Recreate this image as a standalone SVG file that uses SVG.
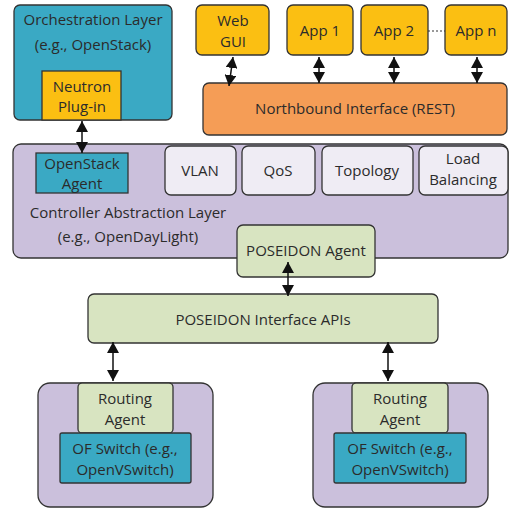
<svg xmlns="http://www.w3.org/2000/svg" width="510" height="508" viewBox="0 0 510 508">
<style>
text{font-family:"Open Sans","Liberation Sans",sans-serif;font-size:15px;fill:#2b2b2b;text-anchor:middle}
.b{stroke:#333;stroke-width:1.3}
.teal{fill:#3aa9c4}
.yel{fill:#fbbf12}
.org{fill:#f59d56}
.lav{fill:#cbc0dc}
.wht{fill:#efecf4}
.grn{fill:#d8e4c1}
.c{stroke:#111;stroke-width:1.5;fill:none;marker-start:url(#a);marker-end:url(#a)}
</style>
<defs>
<marker id="a" viewBox="0 0 11 12" refX="11" refY="6" markerWidth="11" markerHeight="12" markerUnits="userSpaceOnUse" orient="auto-start-reverse">
<path d="M0,0 L11,6 L0,12 Z" fill="#111"/>
</marker>
</defs>
<g id="orchestration">
<rect class="b teal" x="14" y="5" width="158" height="115" rx="6"/>
<text x="93" y="25">Orchestration Layer</text>
<text x="93" y="50">(e.g., OpenStack)</text>
</g>
<g id="neutron">
<rect class="b yel" x="42" y="71" width="79" height="49"/>
<text x="82" y="92">Neutron</text>
<text x="82" y="112">Plug-in</text>
</g>
<g id="webgui">
<rect class="b yel" x="196" y="5" width="73" height="50" rx="6"/>
<text x="233" y="26">Web</text>
<text x="233" y="47">GUI</text>
</g>
<g id="app1">
<rect class="b yel" x="287" y="5" width="66" height="50" rx="6"/>
<text x="320" y="36">App 1</text>
</g>
<g id="app2">
<rect class="b yel" x="361" y="5" width="67" height="50" rx="6"/>
<text x="394" y="36">App 2</text>
</g>
<g id="appn">
<rect class="b yel" x="445" y="5" width="62" height="50" rx="6"/>
<text x="476" y="36">App n</text>
</g>
<g id="northbound">
<rect class="b org" x="203" y="83" width="304" height="52" rx="6"/>
<text x="355" y="114">Northbound Interface (REST)</text>
</g>
<g id="controller">
<rect class="b lav" x="13" y="144" width="495" height="114" rx="8"/>
<text x="128" y="218">Controller Abstraction Layer</text>
<text x="128" y="242">(e.g., OpenDayLight)</text>
</g>
<g id="openstackagent">
<rect class="b teal" x="36" y="153" width="92" height="40"/>
<text x="82" y="169">OpenStack</text>
<text x="82" y="189">Agent</text>
</g>
<g id="vlan">
<rect class="b wht" x="165" y="146" width="71" height="49" rx="6"/>
<text x="200" y="176">VLAN</text>
</g>
<g id="qos">
<rect class="b wht" x="242" y="146" width="73" height="49" rx="6"/>
<text x="278" y="176">QoS</text>
</g>
<g id="topology">
<rect class="b wht" x="322" y="146" width="91" height="49" rx="6"/>
<text x="367" y="176">Topology</text>
</g>
<g id="loadbalancing">
<rect class="b wht" x="419" y="146" width="89" height="49" rx="6"/>
<text x="463" y="164">Load</text>
<text x="463" y="185">Balancing</text>
</g>
<g id="poseidonagent">
<rect class="b grn" x="237" y="225" width="138" height="52" rx="6"/>
<text x="306" y="256">POSEIDON Agent</text>
</g>
<g id="poseidonapis">
<rect class="b grn" x="88" y="294" width="350" height="49" rx="6"/>
<text x="263" y="325">POSEIDON Interface APIs</text>
</g>
<g id="switch1">
<rect class="b lav" x="38" y="383" width="175" height="124" rx="12"/>
<rect class="b grn" x="78" y="383" width="95" height="50" rx="4"/>
<text x="125" y="404">Routing</text>
<text x="125" y="425">Agent</text>
<rect class="b teal" x="60" y="433" width="131" height="50" rx="2"/>
<text x="125" y="454">OF Switch (e.g.,</text>
<text x="125" y="475">OpenVSwitch)</text>
</g>
<g id="switch2">
<rect class="b lav" x="313" y="383" width="175" height="124" rx="12"/>
<rect class="b grn" x="352" y="383" width="96" height="50" rx="4"/>
<text x="400" y="404">Routing</text>
<text x="400" y="425">Agent</text>
<rect class="b teal" x="334" y="433" width="132" height="50" rx="2"/>
<text x="400" y="454">OF Switch (e.g.,</text>
<text x="400" y="475">OpenVSwitch)</text>
</g>
<g id="connectors">
<line x1="428" y1="31" x2="445" y2="31" stroke="#333" stroke-width="1" stroke-dasharray="2,2"/>
<line class="c" x1="233" y1="57" x2="229" y2="86"/>
<line class="c" x1="319" y1="57" x2="319" y2="83"/>
<line class="c" x1="394" y1="57" x2="394" y2="83"/>
<line class="c" x1="477" y1="57" x2="477" y2="83"/>
<line class="c" x1="82" y1="121" x2="82" y2="153"/>
<line class="c" x1="288" y1="262" x2="288" y2="296"/>
<line class="c" x1="113" y1="342" x2="113" y2="381"/>
<line class="c" x1="388" y1="342" x2="388" y2="381"/>
</g>
</svg>
